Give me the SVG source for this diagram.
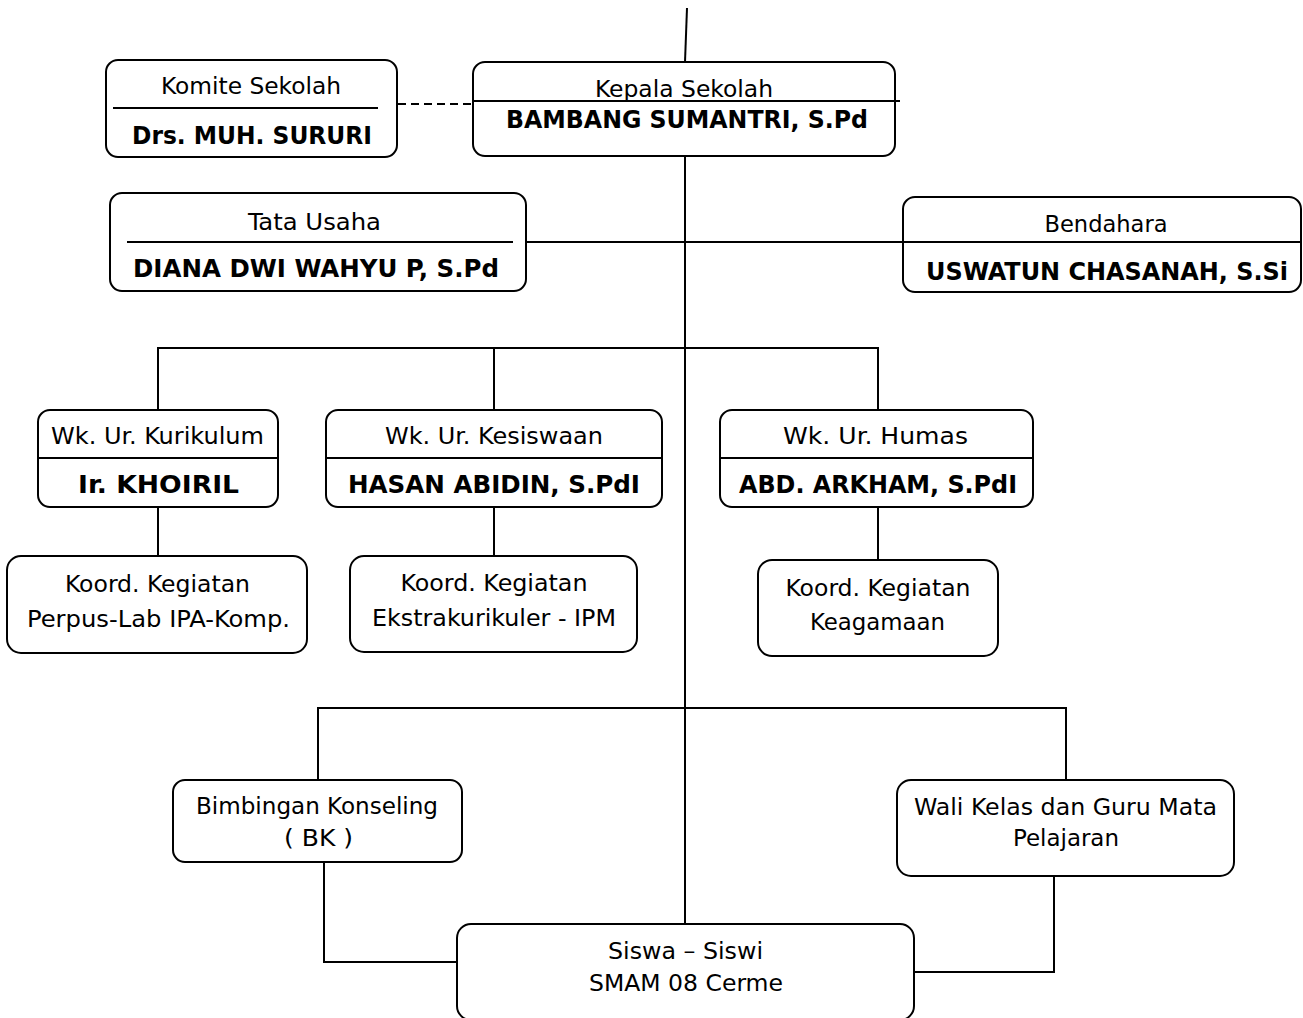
<svg xmlns="http://www.w3.org/2000/svg" width="1303" height="1018" viewBox="0 0 1303 1018">
<style>
.box{fill:#fff;stroke:#000;stroke-width:2}
.ln{stroke:#000;stroke-width:2;fill:none}
.dash{stroke:#000;stroke-width:2;fill:none;stroke-dasharray:8 5}
text{font-family:"DejaVu Sans Condensed","DejaVu Sans","Liberation Sans",sans-serif;font-stretch:condensed;fill:#000;text-anchor:middle}
.r{font-size:23.5px}
.b{font-size:25px;font-weight:bold}
</style>
<rect width="1303" height="1018" fill="#fff"/>
<g id="connectors">
<line class="ln" x1="687" y1="8" x2="685" y2="62"/>
<line class="dash" x1="398" y1="104" x2="473" y2="104"/>
<line class="ln" x1="685" y1="156" x2="685" y2="924"/>
<line class="ln" x1="526" y1="242" x2="903" y2="242"/>
<polyline class="ln" points="158,410 158,348 878,348 878,410"/>
<line class="ln" x1="494" y1="348" x2="494" y2="410"/>
<line class="ln" x1="158" y1="507" x2="158" y2="556"/>
<line class="ln" x1="494" y1="507" x2="494" y2="556"/>
<line class="ln" x1="878" y1="507" x2="878" y2="560"/>
<polyline class="ln" points="318,780 318,708 1066,708 1066,780"/>
<polyline class="ln" points="324,862 324,962 457,962"/>
<polyline class="ln" points="1054,876 1054,972 914,972"/>
</g>
<g id="komite">
<rect class="box" x="106" y="60" width="291" height="97" rx="12"/>
<line class="ln" x1="113" y1="108" x2="378" y2="108"/>
<text class="r" x="251" y="94" textLength="180" lengthAdjust="spacingAndGlyphs">Komite Sekolah</text>
<text class="b" x="252" y="144" textLength="240" lengthAdjust="spacingAndGlyphs">Drs. MUH. SURURI</text>
</g>
<g id="kepala">
<rect class="box" x="473" y="62" width="422" height="94" rx="12"/>
<line class="ln" x1="473" y1="101" x2="900" y2="101"/>
<text class="r" x="684" y="97" textLength="178" lengthAdjust="spacingAndGlyphs">Kepala Sekolah</text>
<text class="b" x="687" y="128" textLength="362" lengthAdjust="spacingAndGlyphs">BAMBANG SUMANTRI, S.Pd</text>
</g>
<g id="tata-usaha">
<rect class="box" x="110" y="193" width="416" height="98" rx="12"/>
<line class="ln" x1="127" y1="242" x2="513" y2="242"/>
<text class="r" x="314.5" y="230" textLength="133" lengthAdjust="spacingAndGlyphs">Tata Usaha</text>
<text class="b" x="316" y="277" textLength="366" lengthAdjust="spacingAndGlyphs">DIANA DWI WAHYU P, S.Pd</text>
</g>
<g id="bendahara">
<rect class="box" x="903" y="197" width="398" height="95" rx="12"/>
<line class="ln" x1="903" y1="242" x2="1301" y2="242"/>
<text class="r" x="1106" y="232" textLength="123" lengthAdjust="spacingAndGlyphs">Bendahara</text>
<text class="b" x="1107" y="280" textLength="362" lengthAdjust="spacingAndGlyphs">USWATUN CHASANAH, S.Si</text>
</g>
<g id="wk-kurikulum">
<rect class="box" x="38" y="410" width="240" height="97" rx="12"/>
<line class="ln" x1="38" y1="458" x2="278" y2="458"/>
<text class="r" x="157.5" y="444" textLength="213" lengthAdjust="spacingAndGlyphs">Wk. Ur. Kurikulum</text>
<text class="b" x="158.5" y="493" textLength="161" lengthAdjust="spacingAndGlyphs">Ir. KHOIRIL</text>
</g>
<g id="wk-kesiswaan">
<rect class="box" x="326" y="410" width="336" height="97" rx="12"/>
<line class="ln" x1="326" y1="458" x2="662" y2="458"/>
<text class="r" x="494" y="444" textLength="218" lengthAdjust="spacingAndGlyphs">Wk. Ur. Kesiswaan</text>
<text class="b" x="494" y="493" textLength="292" lengthAdjust="spacingAndGlyphs">HASAN ABIDIN, S.PdI</text>
</g>
<g id="wk-humas">
<rect class="box" x="720" y="410" width="313" height="97" rx="12"/>
<line class="ln" x1="720" y1="458" x2="1033" y2="458"/>
<text class="r" x="875.5" y="444" textLength="185" lengthAdjust="spacingAndGlyphs">Wk. Ur. Humas</text>
<text class="b" x="878" y="493" textLength="278" lengthAdjust="spacingAndGlyphs">ABD. ARKHAM, S.PdI</text>
</g>
<g id="koord-perpus">
<rect class="box" x="7" y="556" width="300" height="97" rx="14"/>
<text class="r" x="157.5" y="592" textLength="185" lengthAdjust="spacingAndGlyphs">Koord. Kegiatan</text>
<text class="r" x="158.5" y="627" textLength="263" lengthAdjust="spacingAndGlyphs">Perpus-Lab IPA-Komp.</text>
</g>
<g id="koord-ekstra">
<rect class="box" x="350" y="556" width="287" height="96" rx="14"/>
<text class="r" x="494" y="591" textLength="187" lengthAdjust="spacingAndGlyphs">Koord. Kegiatan</text>
<text class="r" x="494" y="626" textLength="244" lengthAdjust="spacingAndGlyphs">Ekstrakurikuler - IPM</text>
</g>
<g id="koord-agama">
<rect class="box" x="758" y="560" width="240" height="96" rx="14"/>
<text class="r" x="878" y="596" textLength="185" lengthAdjust="spacingAndGlyphs">Koord. Kegiatan</text>
<text class="r" x="877.5" y="630" textLength="135" lengthAdjust="spacingAndGlyphs">Keagamaan</text>
</g>
<g id="bk">
<rect class="box" x="173" y="780" width="289" height="82" rx="12"/>
<text class="r" x="317" y="814" textLength="242" lengthAdjust="spacingAndGlyphs">Bimbingan Konseling</text>
<text class="r" x="318.5" y="846" textLength="69" lengthAdjust="spacingAndGlyphs">( BK )</text>
</g>
<g id="wali-kelas">
<rect class="box" x="897" y="780" width="337" height="96" rx="14"/>
<text class="r" x="1065.5" y="815" textLength="303" lengthAdjust="spacingAndGlyphs">Wali Kelas dan Guru Mata</text>
<text class="r" x="1066" y="846" textLength="106" lengthAdjust="spacingAndGlyphs">Pelajaran</text>
</g>
<g id="siswa">
<rect class="box" x="457" y="924" width="457" height="96" rx="14"/>
<text class="r" x="685.5" y="959" textLength="155" lengthAdjust="spacingAndGlyphs">Siswa – Siswi</text>
<text class="r" x="686" y="991" textLength="194" lengthAdjust="spacingAndGlyphs">SMAM 08 Cerme</text>
</g>
</svg>
